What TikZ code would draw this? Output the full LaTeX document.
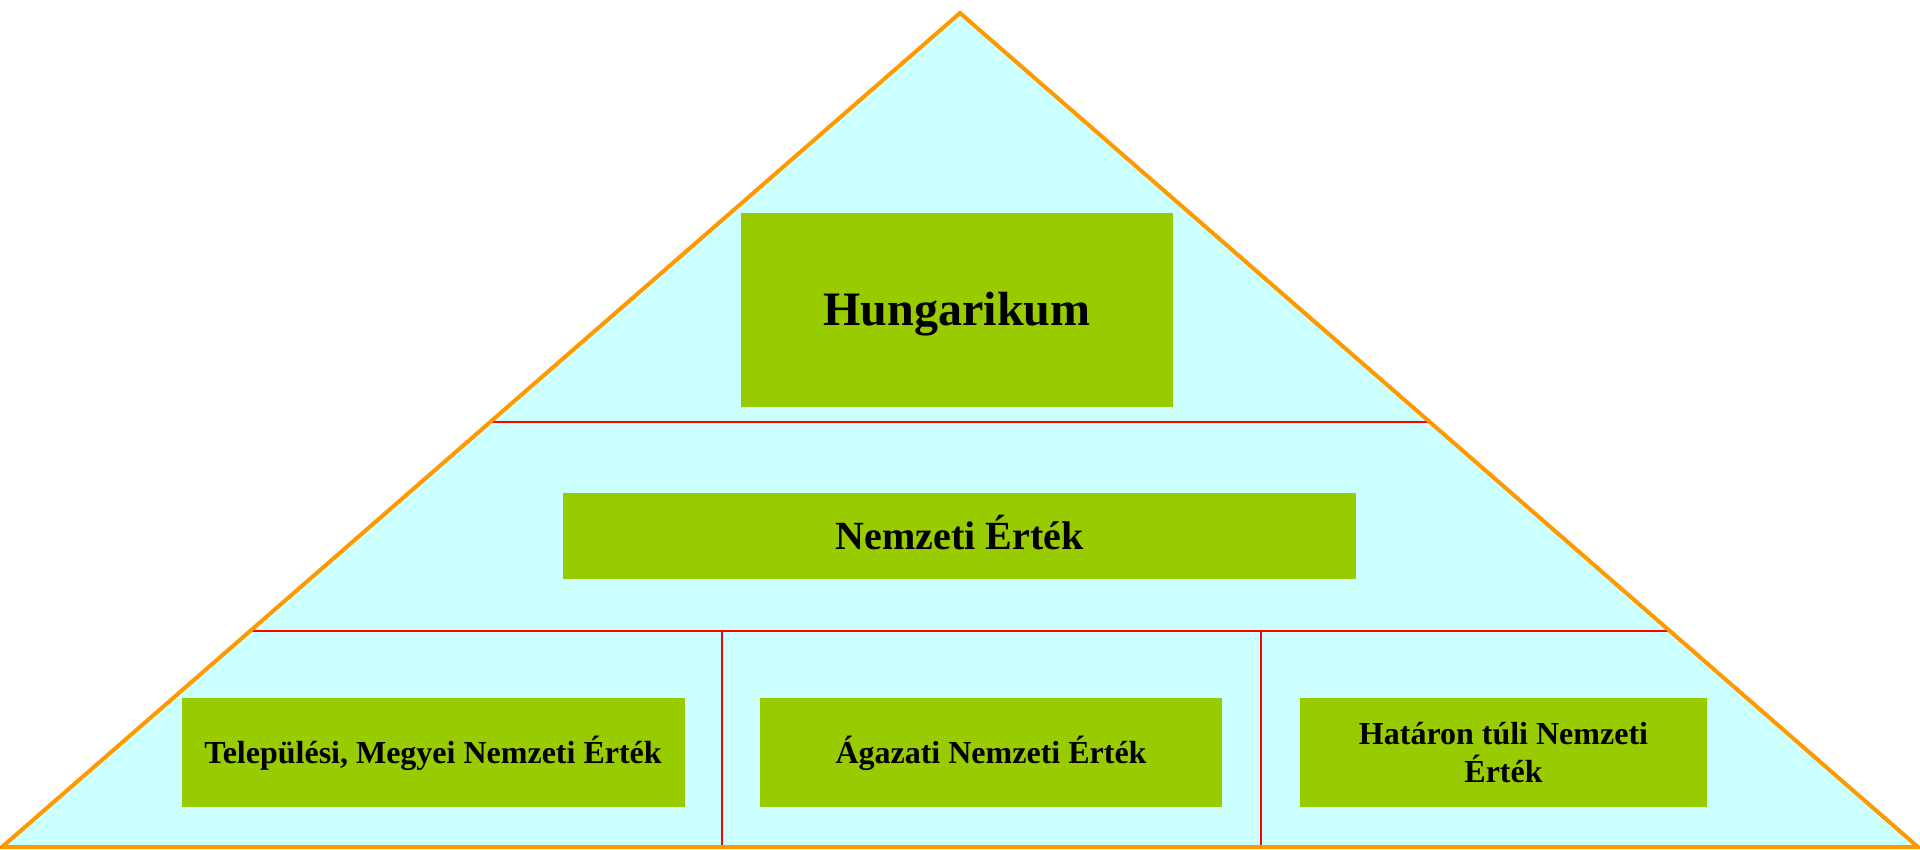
\documentclass[tikz,border=0pt]{standalone}
\usepackage{fontspec}
\setmainfont{Liberation Serif}
\definecolor{pyrfill}{HTML}{CCFFFF}
\definecolor{boxgreen}{HTML}{99CC00}
\definecolor{edgeorange}{HTML}{FF9900}
\definecolor{sepred}{HTML}{FF0000}
\tikzset{
  levelbox/.style={fill=boxgreen, draw=none, inner sep=0pt, font=\bfseries},
  capbox/.style={text height=#1, text depth=0pt},
  sepline/.style={draw=sepred, line width=1.8pt},
  pyredge/.style={draw=edgeorange, line width=4pt, line join=miter}
}
\begin{document}
\begin{tikzpicture}[x=1pt,y=-1pt]
\useasboundingbox (0,0) rectangle (1920,849);
% pyramid
\coordinate (apex) at (960,13);
\coordinate (bl) at (2,847);
\coordinate (br) at (1918,847);
\fill[pyrfill] (apex) -- (bl) -- (br) -- cycle;
% separators
\coordinate (s1l) at (490,422);
\coordinate (s1r) at (1430,422);
\coordinate (s2l) at (250,631);
\coordinate (s2r) at (1670,631);
\coordinate (v1t) at (722,631);
\coordinate (v1b) at (722,847);
\coordinate (v2t) at (1261,631);
\coordinate (v2b) at (1261,847);
\draw[sepline] (s1l) -- (s1r);
\draw[sepline] (s2l) -- (s2r);
\draw[sepline] (v1t) -- (v1b);
\draw[sepline] (v2t) -- (v2b);
\draw[pyredge] (apex) -- (bl) -- (br) -- cycle;
% boxes
\node[levelbox, capbox=31.8pt, minimum width=432pt, minimum height=194pt, font=\bfseries\fontsize{48}{56}\selectfont] (hung) at (957,310) {Hungarikum};
\node[levelbox, capbox=26.5pt, minimum width=793pt, minimum height=86pt, font=\bfseries\fontsize{40}{48}\selectfont] (nat) at (959.5,536) {Nemzeti Érték};
\node[levelbox, capbox=21.2pt, minimum width=503pt, minimum height=109pt, font=\bfseries\fontsize{32}{38}\selectfont] (loc) at (433,752.5) {Települési, Megyei Nemzeti Érték};
\node[levelbox, capbox=21.2pt, minimum width=462pt, minimum height=109pt, font=\bfseries\fontsize{32}{38}\selectfont] (sec) at (991,752.5) {Ágazati Nemzeti Érték};
\node[levelbox, align=center, minimum width=407pt, minimum height=109pt, font=\bfseries\fontsize{32}{38}\selectfont] (abr) at (1503.5,752.5) {Határon túli Nemzeti\\Érték};
\end{tikzpicture}
\end{document}
